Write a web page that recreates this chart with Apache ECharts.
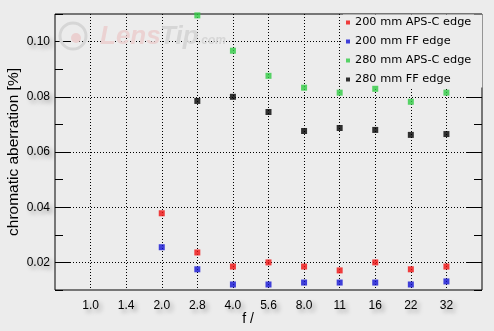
<!DOCTYPE html>
<html>
<head>
<meta charset="utf-8">
<script src="https://cdn.jsdelivr.net/npm/echarts@6/dist/echarts.min.js"></script>
<style>
html,body{margin:0;padding:0;background:#ececec;}
#c{width:494px;height:331px;}
</style>
</head>
<body>
<div id="c"></div>
<script>
// Categories (f-numbers); empty slots pad the ends of the axis
const fStops = ['', '1.0', '1.4', '2.0', '2.8', '4.0', '5.6', '8.0', '11', '16', '22', '32', ''];
// Y tick labels (every 0.01 step, labelled on even steps)
const yTicks = ['0.01', '0.02', '0.03', '0.04', '0.05', '0.06', '0.07', '0.08', '0.09', '0.10', '0.11'];
const seriesNames = ['200 mm APS-C edge', '200 mm FF edge', '280 mm APS-C edge', '280 mm FF edge'];
const aps200 = [null, null, null, 0.0378, 0.0236, 0.0185, 0.0200, 0.0185, 0.0171, 0.0200, 0.0175, 0.0185, null];
const ff200  = [null, null, null, 0.0255, 0.0175, 0.0120, 0.0120, 0.0127, 0.0127, 0.0127, 0.0120, 0.0131, null];
const aps280 = [null, null, null, null, 0.1095, 0.0967, 0.0876, 0.0833, 0.0815, 0.0829, 0.0782, 0.0815, null];
const ff280  = [null, null, null, null, 0.0785, 0.0800, 0.0745, 0.0676, 0.0687, 0.0680, 0.0662, 0.0665, null];
const colors = ['#f01010', '#1414d4', '#30cc44', '#000000'];

const chart = echarts.init(document.getElementById('c'), null, {renderer: 'canvas'});
const shadow = {textShadowColor: 'rgba(0,0,0,0.35)', textShadowBlur: 4, textShadowOffsetX: 3, textShadowOffsetY: 3};
const isMajor = (i) => i % 2 === 1;
const dotted = {color: '#000', width: 1, type: [1, 2]};

const minorAxis = (pos) => ({
  type: 'value', position: pos, min: 0.01, max: 0.11, interval: 0.01,
  axisLine: {show: false}, axisLabel: {show: false}, splitLine: {show: false},
  axisTick: {show: true, inside: true, length: 8, lineStyle: {color: '#000', width: 1}}
});
const majorAxis = (pos, labels) => ({
  type: 'category', position: pos, data: yTicks, boundaryGap: false,
  axisLine: {show: false},
  axisTick: {show: true, inside: true, length: 15, interval: (i) => isMajor(i), lineStyle: {color: '#000', width: 1}},
  axisLabel: labels ? Object.assign({show: true, interval: (i) => isMajor(i), color: '#000', fontFamily: 'Liberation Sans', fontSize: 12, margin: 5}, shadow) : {show: false},
  splitLine: labels ? {show: true, interval: (i) => isMajor(i), lineStyle: dotted} : {show: false}
});

const mk = (arr) => arr.map(v => v === null ? '-' : v);
const dataSets = [aps200, ff200, aps280, ff280];

chart.setOption({
  animation: false,
  backgroundColor: '#ececec',
  grid: {left: 55, top: 14, width: 427, height: 276, show: true, borderColor: '#000', borderWidth: 1, backgroundColor: 'transparent'},
  legend: {
    orient: 'vertical', left: 343, top: 14.5, icon: 'rect', itemWidth: 4, itemHeight: 4, itemGap: 5,
    padding: [1, 11, 1, 3], backgroundColor: '#ececec', z: 4,
    textStyle: {fontFamily: 'DejaVu Sans', fontSize: 11.3, color: '#000', lineHeight: 14},
    data: seriesNames
  },
  xAxis: {
    type: 'category', data: fStops, boundaryGap: false,
    axisLine: {show: false}, axisTick: {show: false},
    axisLabel: Object.assign({color: '#000', fontFamily: 'Liberation Sans', fontSize: 12, margin: 10, interval: 0}, shadow),
    splitLine: {show: true, interval: (i) => i > 0 && i < fStops.length - 1, lineStyle: dotted}
  },
  yAxis: [minorAxis('left'), majorAxis('left', true), minorAxis('right'), majorAxis('right', false)],
  graphic: [
    {type: 'circle', z: 1, shape: {cx: 73, cy: 36, r: 13}, style: {fill: 'none', stroke: '#d6d6d6', lineWidth: 3}},
    {type: 'circle', z: 1, shape: {cx: 76, cy: 38, r: 5}, style: {fill: '#ebd0d0'}},
    {type: 'text', z: 1, x: 100, y: 24, style: {text: 'Lens', font: 'italic bold 26px "Liberation Sans"', fill: '#ebd2d2'}},
    {type: 'text', z: 1, x: 160, y: 24, style: {text: 'Tip', font: 'italic bold 26px "Liberation Sans"', fill: '#d6d6d6'}},
    {type: 'text', z: 1, x: 198, y: 35, style: {text: '.com', font: 'italic bold 12px "Liberation Sans"', fill: '#d6d6d6'}},
    {type: 'text', z: 10, x: 14, y: 152, rotation: Math.PI / 2,
     style: {text: 'chromatic aberration [%]', font: '15.5px "Liberation Sans"', fill: '#000', align: 'center', verticalAlign: 'middle',
             shadowColor: 'rgba(0,0,0,0.35)', shadowBlur: 4, shadowOffsetX: 3, shadowOffsetY: 3}},
    {type: 'text', z: 10, x: 248, y: 319,
     style: {text: 'f /', font: '14px "Liberation Sans"', fill: '#000', align: 'center', verticalAlign: 'middle',
             shadowColor: 'rgba(0,0,0,0.35)', shadowBlur: 4, shadowOffsetX: 3, shadowOffsetY: 3}}
  ],
  series: seriesNames.map((name, k) => ({
    name: name, type: 'scatter', symbol: 'rect', symbolSize: 6, yAxisIndex: 0,
    itemStyle: {color: colors[k]}, z: 5,
    data: mk(dataSets[k])
  }))
});
</script>
</body>
</html>
